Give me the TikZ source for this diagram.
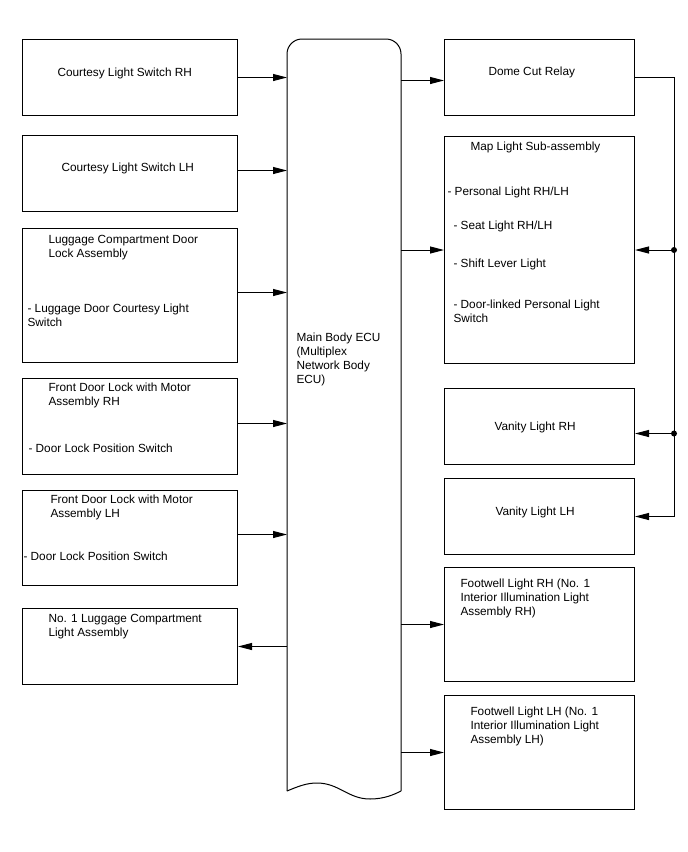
\documentclass[tikz,border=0pt]{standalone}
\usepackage{fontspec}
\setmainfont{Liberation Sans}
\usetikzlibrary{arrows.meta,calc,positioning}

\begin{document}
\begin{tikzpicture}[x=1pt,y=-1pt,>={Triangle[length=14pt,width=7pt]},line width=1pt,
  lbox/.style={draw,rectangle,inner sep=0pt,anchor=north west,minimum width=215pt},
  rbox/.style={draw,rectangle,inner sep=0pt,anchor=north west,minimum width=190pt},
  txt/.style={anchor=west,inner sep=0pt,yshift=-1pt,align=left,font=\fontsize{11.8}{14}\selectfont}]
  \useasboundingbox (0,0) rectangle (688,852);

  % Linke Spalte
  \node[lbox,minimum height=76pt]  (csRH)     at (22,39)  {};
  \node[lbox,minimum height=76pt]  (csLH)     at (22,135) {};
  \node[lbox,minimum height=134pt] (lugDoor)  at (22,228) {};
  \node[lbox,minimum height=96pt]  (fdRH)     at (22,378) {};
  \node[lbox,minimum height=95pt]  (fdLH)     at (22,490) {};
  \node[lbox,minimum height=76pt]  (lugLight) at (22,608) {};

  \node[txt] (csRHt) at (57,72)  {Courtesy Light Switch RH};
  \node[txt] (csLHt) at (61,167) {Courtesy Light Switch LH};
  \node[txt] (lugDoort)  at (48,247) {Luggage Compartment Door\\Lock Assembly};
  \node[txt] (lugDoors)  at (27,314) {- Luggage Door Courtesy Light\\Switch};
  \node[txt] (fdRHt) at (48,394) {Front Door Lock with Motor\\Assembly RH};
  \node[txt] (fdRHs) at (28,447) {- Door Lock Position Switch};
  \node[txt] (fdLHt) at (50,506) {Front Door Lock with Motor\\Assembly LH};
  \node[txt] (fdLHs) at (23,555) {- Door Lock Position Switch};
  \node[txt] (lugLightt) at (48,626) {No. 1 Luggage Compartment\\Light Assembly};

  % ECU mit Wellenkante unten
  \node[anchor=north west,inner sep=0pt,minimum width=113pt,minimum height=751pt] (ecu) at (287,39) {};
  \draw[rounded corners=15pt] (ecu.south west) -- (ecu.north west) -- (ecu.north east) -- (ecu.south east);
  \draw (ecu.south west) .. controls +(12,-5) and +(-10,0) .. ++(30,-8)
        .. controls +(22,0) and +(-22,0) .. ++(53,16)
        .. controls +(15,0) and +(-6,3) .. (ecu.south east);
  \node[txt] (ecut) at (296,358) {Main Body ECU\\(Multiplex\\Network Body\\ECU)};

  % Rechte Spalte
  \node[rbox,minimum height=76pt]  (dome)  at (444,39)  {};
  \node[rbox,minimum height=227pt] (map)   at (444,136) {};
  \node[rbox,minimum height=76pt]  (vanRH) at (444,388) {};
  \node[rbox,minimum height=76pt]  (vanLH) at (444,478) {};
  \node[rbox,minimum height=114pt] (fwRH)  at (444,567) {};
  \node[rbox,minimum height=114pt] (fwLH)  at (444,695) {};

  \node[txt] (domet) at (488,71) {Dome Cut Relay};
  \node[txt] (mapt)  at (470,146) {Map Light Sub-assembly};
  \node[txt] (map1)  at (447,191) {- Personal Light RH/LH};
  \node[txt] (map2)  at (453,225) {- Seat Light RH/LH};
  \node[txt] (map3)  at (453,263) {- Shift Lever Light};
  \node[txt] (map4)  at (453,310) {- Door-linked Personal Light\\Switch};
  \node[txt] (vanRHt) at (494,426) {Vanity Light RH};
  \node[txt] (vanLHt) at (495,511) {Vanity Light LH};
  \node[txt] (fwRHt) at (460,597) {Footwell Light RH (No. 1\\Interior Illumination Light\\Assembly RH)};
  \node[txt] (fwLHt) at (470,725) {Footwell Light LH (No. 1\\Interior Illumination Light\\Assembly LH)};

  % Eingaenge zum ECU
  \draw[->] (csRH.east) -- (csRH.east -| ecu.west);
  \draw[->] ($(csLH.east)+(0,-3)$) -- ($(csLH.east -| ecu.west)+(0,-3)$);
  \draw[->] ($(lugDoor.east)+(0,-3)$) -- ($(lugDoor.east -| ecu.west)+(0,-3)$);
  \draw[->] ($(fdRH.east)+(0,-3)$) -- ($(fdRH.east -| ecu.west)+(0,-3)$);
  \draw[->] ($(fdLH.east)+(0,-3.5)$) -- ($(fdLH.east -| ecu.west)+(0,-3.5)$);
  \draw[->] (lugLight.east -| ecu.west) -- (lugLight.east);

  % Ausgaenge vom ECU
  \draw[->] ($(dome.west -| ecu.east)+(0,3)$) -- ($(dome.west)+(0,3)$);
  \draw[->] (map.west -| ecu.east) -- (map.west);
  \draw[->] (fwRH.west -| ecu.east) -- (fwRH.west);
  \draw[->] (fwLH.west -| ecu.east) -- (fwLH.west);

  % Sammelleitung vom Dome Cut Relay
  \coordinate (busTop) at ($(dome.east)+(39,0)$);
  \coordinate (jMap) at (busTop |- map.east);
  \coordinate (jVan) at ($(busTop |- vanRH.east)+(0,7)$);
  \draw[->] (dome.east) -- (busTop) |- (vanLH.east);
  \draw[->] (jMap) -- (map.east);
  \draw[->] (jVan) -- (jVan -| vanRH.east);
  \fill (jMap) circle (3pt);
  \fill (jVan) circle (3pt);
\end{tikzpicture}
\end{document}
